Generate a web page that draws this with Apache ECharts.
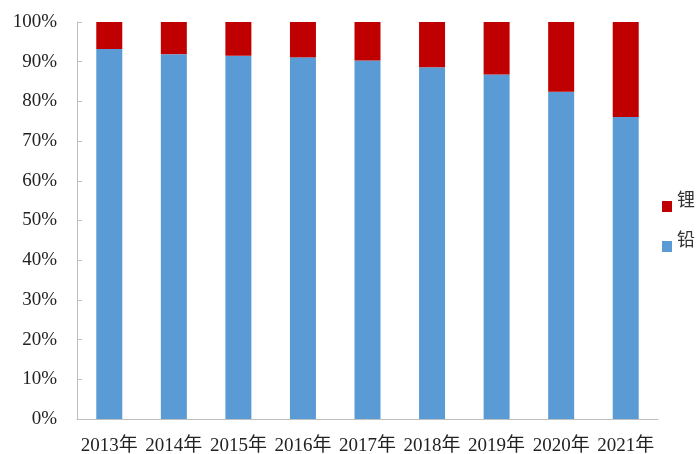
<!DOCTYPE html>
<html>
<head>
<meta charset="utf-8">
<script src="https://cdn.jsdelivr.net/npm/echarts@6/dist/echarts.min.js"></script>
<style>
html,body{margin:0;padding:0;background:#fff;}
#chart{width:700px;height:454px;}
</style>
</head>
<body>
<div id="chart"></div>
<script>
var years = ['2013年', '2014年', '2015年', '2016年', '2017年', '2018年', '2019年', '2020年', '2021年'];
var lead = [93.2, 91.9, 91.5, 91.1, 90.3, 88.6, 86.8, 82.4, 76.1];     // 铅
var lithium = [6.8, 8.1, 8.5, 8.9, 9.7, 11.4, 13.2, 17.6, 23.9];      // 锂

var font = "'Liberation Serif', 'Noto Sans CJK SC', serif";
// square sits in the lower half of the icon box so the text reads a bit higher
var legendIcon = 'path://M0,0L0.01,0L0.01,0.01ZM0,11L10,11L10,22L0,22Z';

var myChart = echarts.init(document.getElementById('chart'));
var option = {
    animation: false,
    textStyle: { fontFamily: font },
    grid: { left: 77, right: 42, top: 22, bottom: 35, outerBoundsMode: 'none' },
    legend: {
        orient: 'vertical',
        left: 657,
        top: 185,
        data: ['锂', '铅'],
        itemWidth: 10,
        itemHeight: 22,
        itemGap: 18,
        icon: legendIcon,
        textStyle: { fontSize: 18, color: '#333', fontFamily: font, lineHeight: 22 }
    },
    xAxis: {
        type: 'category',
        data: years,
        axisLine: { lineStyle: { color: '#bfbfbf' } },
        axisTick: { show: false },
        axisLabel: { color: '#222', fontSize: 19, margin: 18, fontFamily: font, interval: 0 }
    },
    yAxis: {
        type: 'value',
        min: 0,
        max: 100,
        interval: 10,
        splitLine: { show: false },
        axisLine: { show: true, lineStyle: { color: '#bfbfbf' } },
        axisTick: { show: true, inside: true, length: 5, lineStyle: { color: '#bfbfbf' } },
        axisLabel: { color: '#222', fontSize: 19, margin: 20, formatter: '{value}%', fontFamily: font }
    },
    series: [
        {
            name: '铅',
            type: 'bar',
            stack: 'total',
            barWidth: 26,
            itemStyle: { color: '#5B9BD5' },
            data: lead
        },
        {
            name: '锂',
            type: 'bar',
            stack: 'total',
            barWidth: 26,
            itemStyle: { color: '#C00000' },
            data: lithium
        }
    ]
};
myChart.setOption(option);
</script>
</body>
</html>
